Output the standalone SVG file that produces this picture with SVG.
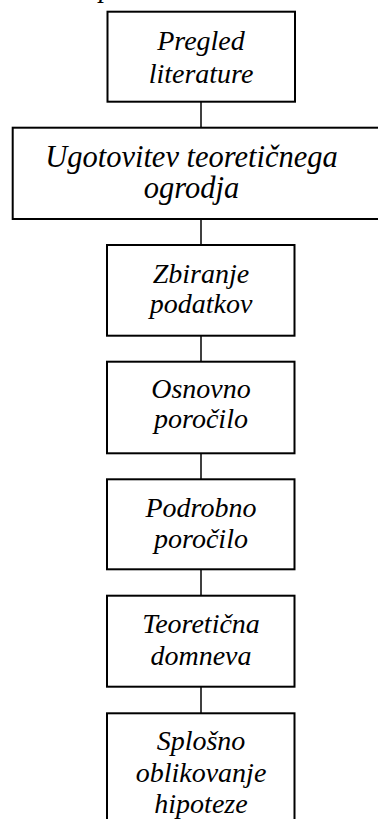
<svg xmlns="http://www.w3.org/2000/svg" width="378" height="819" viewBox="0 0 378 819">
<style>
.box{fill:#fff;stroke:#000;stroke-width:2}
.t{font-family:"Liberation Serif","Times New Roman","DejaVu Serif",serif;font-style:italic;font-size:28px;fill:#000;text-anchor:middle}
.w{font-size:30.5px}
.c{stroke:#000;stroke-width:1.5;fill:none}
</style>
<rect width="378" height="819" fill="#fff"/>
<text class="t" x="106" y="-3.5">p</text>
<g id="connectors">
<line class="c" x1="201" y1="101.7" x2="201" y2="127.7"/>
<line class="c" x1="201" y1="219" x2="201" y2="245"/>
<line class="c" x1="201" y1="335.7" x2="201" y2="361.7"/>
<line class="c" x1="201" y1="453.3" x2="201" y2="479.3"/>
<line class="c" x1="201" y1="569.3" x2="201" y2="595.7"/>
<line class="c" x1="201" y1="686.7" x2="201" y2="713.3"/>
</g>
<g id="n1"><rect class="box" x="107.5" y="11.7" width="187.5" height="90"/><text class="t" x="201" y="49.5">Pregled</text><text class="t" x="201" y="82.5">literature</text></g>
<g id="n2"><rect class="box" x="12.7" y="127.7" width="380" height="91.3"/><text class="t w" x="191.5" y="166.5">Ugotovitev teoretičnega</text><text class="t w" x="191.5" y="198">ogrodja</text></g>
<g id="n3"><rect class="box" x="107" y="245" width="187.5" height="90.7"/><text class="t" x="201" y="283.3">Zbiranje</text><text class="t" x="201" y="313.3">podatkov</text></g>
<g id="n4"><rect class="box" x="107" y="361.7" width="187.5" height="91.6"/><text class="t" x="201" y="398.3">Osnovno</text><text class="t" x="201" y="428">poročilo</text></g>
<g id="n5"><rect class="box" x="107" y="479.3" width="187.5" height="90"/><text class="t" x="201" y="516.7">Podrobno</text><text class="t" x="201" y="548">poročilo</text></g>
<g id="n6"><rect class="box" x="107" y="595.7" width="187.5" height="91"/><text class="t" x="201" y="633.3">Teoretična</text><text class="t" x="201" y="665">domneva</text></g>
<g id="n7"><rect class="box" x="107" y="713.3" width="187.5" height="130"/><text class="t" x="201" y="750">Splošno</text><text class="t" x="201" y="781.7">oblikovanje</text><text class="t" x="201" y="813.3">hipoteze</text></g>
</svg>
